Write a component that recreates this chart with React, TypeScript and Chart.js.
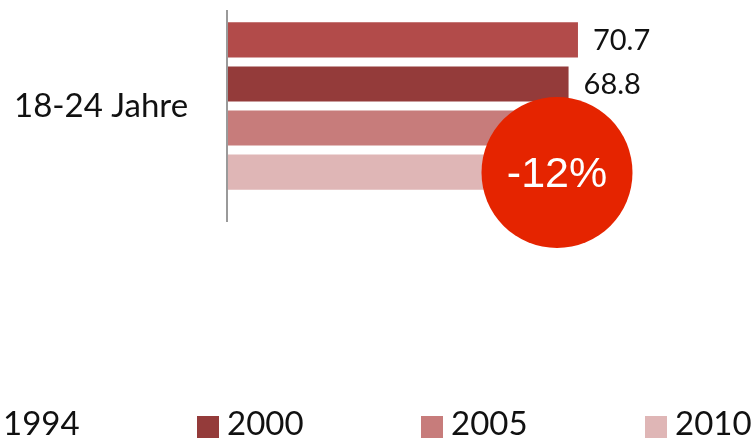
import React, { useEffect, useRef } from "react";
import { Chart, registerables } from "chart.js";

Chart.register(...registerables);

const categories = ["18-24 Jahre"];
const seriesLabels = ["1994", "2000", "2005", "2010"];
const values1994 = [70.7];
const values2000 = [68.8];
const values2005 = [62.6];
const values2010 = [62.2];
const seriesValues = [values1994, values2000, values2005, values2010];
const seriesColors = ["#B24B4A", "#943B3A", "#C77C7B", "#DFB6B6"];
const badgeText = "-12%";

const FONT = "Lato, 'Open Sans', sans-serif";

const overlayPlugin = {
  id: "overlay",
  afterDatasetsDraw(chart: any) {
    const ctx = chart.ctx;
    const area = chart.chartArea;
    // axis line
    ctx.save();
    ctx.strokeStyle = "#9a9a9a";
    ctx.lineWidth = 2;
    ctx.beginPath();
    ctx.moveTo(area.left - 1, area.top);
    ctx.lineTo(area.left - 1, area.bottom + 20);
    ctx.stroke();

    // value labels
    ctx.fillStyle = "#111";
    ctx.font = `29px ${FONT}`;
    ctx.textAlign = "left";
    ctx.textBaseline = "middle";
    chart.data.datasets.forEach((ds: any, di: number) => {
      const meta = chart.getDatasetMeta(di);
      meta.data.forEach((bar: any, i: number) => {
        const v = ds.data[i];
        ctx.fillText(v.toFixed(1), bar.x + 15, bar.y + 1);
      });
    });
    ctx.restore();
  },
  afterDraw(chart: any) {
    const ctx = chart.ctx;
    ctx.save();
    // badge circle
    const cx = 557;
    const cy = 172.5;
    const r = 75.5;
    ctx.fillStyle = "#E52400";
    ctx.beginPath();
    ctx.arc(cx, cy, r, 0, Math.PI * 2);
    ctx.fill();
    ctx.fillStyle = "#ffffff";
    ctx.font = `43px 'Liberation Sans', Arial, sans-serif`;
    ctx.textAlign = "center";
    ctx.textBaseline = "middle";
    ctx.fillText(badgeText, cx, cy + 3);

    // legend
    const startX = -27;
    const pitch = 224;
    const boxY = 416;
    const box = 22;
    ctx.font = `33px ${FONT}`;
    ctx.textAlign = "left";
    ctx.textBaseline = "alphabetic";
    chart.data.datasets.forEach((ds: any, i: number) => {
      const bx = startX + i * pitch;
      ctx.fillStyle = ds.backgroundColor;
      ctx.fillRect(bx, boxY, box, box);
      ctx.fillStyle = "#111";
      ctx.fillText(ds.label, bx + box + 8, 435);
    });
    ctx.restore();
  },
};

export default function App() {
  const ref = useRef<HTMLCanvasElement | null>(null);
  useEffect(() => {
    document.body.style.margin = "0";
    const canvas = ref.current;
    if (!canvas) return;
    const chart = new Chart(canvas, {
      type: "bar",
      data: {
        labels: categories,
        datasets: seriesLabels.map((label, i) => ({
          label,
          data: seriesValues[i],
          backgroundColor: seriesColors[i],
          borderWidth: 0,
          categoryPercentage: 0.917,
          barPercentage: 0.8,
        })),
      },
      options: {
        indexAxis: "y",
        responsive: false,
        animation: false,
        layout: { padding: { left: 14, top: 10, right: 31, bottom: 236 } },
        plugins: {
          legend: { display: false },
          tooltip: { enabled: false },
        },
        scales: {
          x: { display: false, min: 0, max: 100 },
          y: {
            grid: { display: false },
            border: { display: false },
            ticks: {
              crossAlign: "far",
              color: "#111",
              font: { family: FONT, size: 33 },
            },
            afterFit(scale: any) {
              scale.width = 214;
              scale.paddingTop = 0;
              scale.paddingBottom = 0;
            },
          },
        },
      },
      plugins: [overlayPlugin],
    } as any);
    return () => chart.destroy();
  }, []);
  return (
    <div style={{ width: 754, height: 438, background: "#fff" }}>
      <canvas ref={ref} width={754} height={438} />
    </div>
  );
}
